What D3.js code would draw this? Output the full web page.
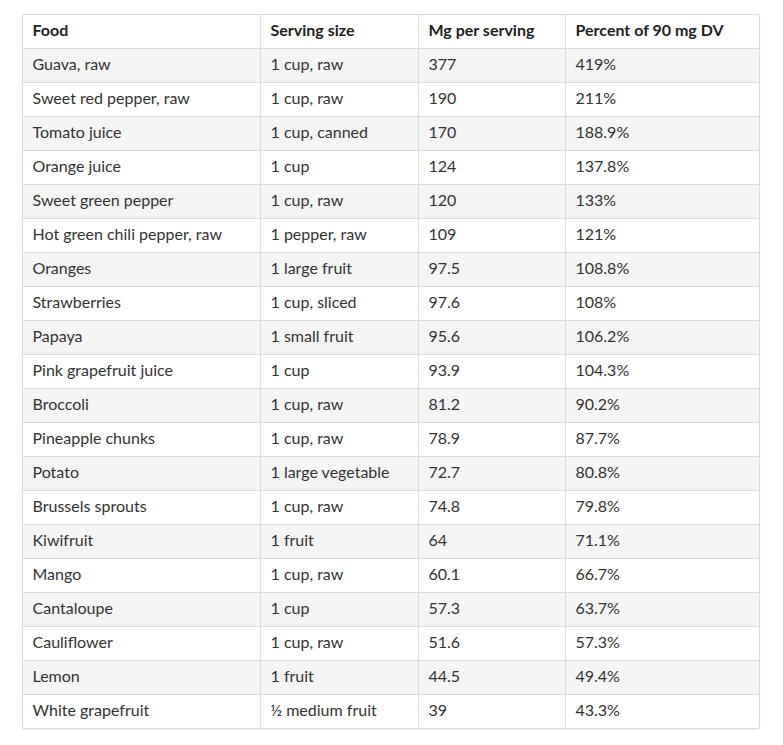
<!DOCTYPE html>
<html><head><meta charset="utf-8">
<script src="https://cdn.jsdelivr.net/npm/d3@7"></script>
<style>
html,body{margin:0;padding:0;background:#fff;}
svg{display:block;}
</style></head>
<body>
<svg id="chart" width="783" height="745"></svg>
<script>
const headers = ["Food", "Serving size", "Mg per serving", "Percent of 90 mg DV"];
const foods = ["Guava, raw","Sweet red pepper, raw","Tomato juice","Orange juice","Sweet green pepper","Hot green chili pepper, raw","Oranges","Strawberries","Papaya","Pink grapefruit juice","Broccoli","Pineapple chunks","Potato","Brussels sprouts","Kiwifruit","Mango","Cantaloupe","Cauliflower","Lemon","White grapefruit"];
const servings = ["1 cup, raw","1 cup, raw","1 cup, canned","1 cup","1 cup, raw","1 pepper, raw","1 large fruit","1 cup, sliced","1 small fruit","1 cup","1 cup, raw","1 cup, raw","1 large vegetable","1 cup, raw","1 fruit","1 cup, raw","1 cup","1 cup, raw","1 fruit","½ medium fruit"];
const mgPerServing = ["377","190","170","124","120","109","97.5","97.6","95.6","93.9","81.2","78.9","72.7","74.8","64","60.1","57.3","51.6","44.5","39"];
const percentDV = ["419%","211%","188.9%","137.8%","133%","121%","108.8%","108%","106.2%","104.3%","90.2%","87.7%","80.8%","79.8%","71.1%","66.7%","63.7%","57.3%","49.4%","43.3%"];

const rows = foods.map((f,i)=>[f, servings[i], mgPerServing[i], percentDV[i]]);

const tLeft = 22.5, tRight = 759.5, tTop = 14.5, rowH = 34;
const colEdges = [tLeft, 260.5, 418.5, 565.5, tRight];
const svg = d3.select("#chart");
const allRows = ["h"].concat(d3.range(rows.length));
const y = d3.scaleBand().domain(allRows).range([tTop, tTop + rowH*allRows.length]);
const x = d3.scaleOrdinal().domain(d3.range(4)).range(colEdges.slice(0,4));
const tBottom = tTop + rowH*allRows.length;

// shadow
svg.append("rect").attr("x", tLeft).attr("y", tTop+1).attr("width", tRight-tLeft).attr("height", tBottom-tTop)
  .attr("rx",2).attr("fill","#e2e2e2");
svg.append("rect").attr("x", tLeft).attr("y", tTop).attr("width", tRight-tLeft).attr("height", tBottom-tTop)
  .attr("rx",2).attr("fill","#fff");

// striped rows
svg.selectAll("rect.stripe").data(d3.range(rows.length).filter(i=>i%2===0)).join("rect")
  .attr("class","stripe").attr("x", tLeft).attr("y", d=>y(d)).attr("width", tRight-tLeft).attr("height", rowH)
  .attr("fill","#f5f5f5");

// horizontal lines
svg.selectAll("line.h").data(d3.range(rows.length)).join("line")
  .attr("class","h")
  .attr("x1", tLeft).attr("x2", tRight).attr("y1", d=>y(d)).attr("y2", d=>y(d))
  .attr("stroke","#dcdcdc").attr("stroke-width",1.2);
// vertical lines
svg.selectAll("line.v").data(colEdges.slice(1,4)).join("line")
  .attr("class","v")
  .attr("x1", d=>d).attr("x2", d=>d).attr("y1", tTop).attr("y2", tBottom)
  .attr("stroke","#dcdcdc").attr("stroke-width",1.2);
// outer border
svg.append("rect").attr("x", tLeft).attr("y", tTop).attr("width", tRight-tLeft).attr("height", tBottom-tTop)
  .attr("rx",2).attr("fill","none").attr("stroke","#dcdcdc").attr("stroke-width",1.2);

const font = "Lato, 'Open Sans', sans-serif";
// header
svg.selectAll("text.hd").data(headers).join("text")
  .attr("class","hd")
  .attr("x", (d,i)=>x(i)+10).attr("y", y("h")+rowH/2).attr("dy","0.3em")
  .attr("font-family", font).attr("font-size", 16).attr("font-weight", 700).attr("fill","#222")
  .text(d=>d);

// body
const g = svg.selectAll("g.row").data(rows).join("g").attr("class","row")
  .attr("transform",(d,i)=>`translate(0,${y(i)+rowH/2})`);
g.selectAll("text").data(d=>d).join("text")
  .attr("x", (d,i)=>x(i)+10).attr("dy","0.3em")
  .attr("font-family", font).attr("font-size", 16).attr("fill","#333")
  .text(d=>d);
</script>
</body></html>
